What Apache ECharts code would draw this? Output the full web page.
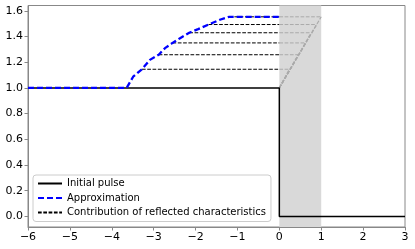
<!DOCTYPE html>
<html>
<head>
<meta charset="utf-8">
<script src="https://cdn.jsdelivr.net/npm/echarts@6/dist/echarts.min.js"></script>
<style>html,body{margin:0;padding:0;background:#fff}#c{width:415px;height:249px}</style>
</head>
<body>
<div id="c"></div>
<script>
// ---- data ----
const pulseX = [-6, 0, 0, 3];
const pulseY = [1, 1, 0, 0];
const approxX = [-6, -3.645, -3.49, -3.28, -3.09, -2.88, -2.73, -2.55, -2.37, -2.15, -1.94, -1.69, -1.42, -1.2, 0];
const approxY = [1, 1, 1.087, 1.145, 1.218, 1.258, 1.309, 1.350, 1.387, 1.429, 1.457, 1.493, 1.530, 1.553, 1.553];
const levels = [1.145, 1.258, 1.350, 1.429, 1.493, 1.553];
const curveX = [-3.28, -2.88, -2.55, -2.15, -1.69, -1.2];
const reflectX = [0.24, 0.45, 0.63, 0.76, 0.89, 1.0];
const shadeRange = [0, 1];
const xTicks = [-6, -5, -4, -3, -2, -1, 0, 1, 2, 3];
const yTicks = [0, 0.2, 0.4, 0.6, 0.8, 1.0, 1.2, 1.4, 1.6];
const legendNames = ['Initial pulse', 'Approximation', 'Contribution of reflected characteristics'];

const zip = (xs, ys) => xs.map((x, i) => [x, ys[i]]);
const FONT = 'DejaVu Sans';
const series = [];
// shade
series.push({
  type: 'line', data: [], silent: true, z: 0,
  markArea: { silent: true, itemStyle: { color: '#d9d9d9', opacity: 1 },
    data: [[{ xAxis: shadeRange[0] }, { xAxis: shadeRange[1] }]] }
});
// contributions of reflected characteristics
levels.forEach((L, i) => {
  series.push({
    name: i === 0 ? legendNames[2] : '__c' + i,
    type: 'line', symbol: 'none', z: 2, animation: false,
    data: [[curveX[i], L], [0, L]],
    itemStyle: { color: '#000' },
    lineStyle: { color: '#000', width: 1, type: [3.7, 1.6] }
  });
  series.push({
    type: 'line', symbol: 'none', z: 2, animation: false,
    data: [[0, L], [reflectX[i], L]],
    lineStyle: { color: '#aaaaaa', width: 1, type: [3.7, 1.6] }
  });
  series.push({
    type: 'line', symbol: 'none', z: 2, animation: false,
    data: [[0, 1], [reflectX[i], L]],
    lineStyle: { color: '#aaaaaa', width: 1.2, type: [3.7, 1.6] }
  });
});
series.push({
  name: legendNames[0], type: 'line', symbol: 'none', z: 3, animation: false,
  data: zip(pulseX, pulseY),
  itemStyle: { color: '#000' },
  lineStyle: { color: '#000', width: 1.5 }
});
series.push({
  name: legendNames[1], type: 'line', symbol: 'none', z: 4, animation: false,
  data: zip(approxX, approxY),
  itemStyle: { color: '#0000ff' },
  lineStyle: { color: '#0000ff', width: 2.3, type: [6, 3] }
});

const fmt = v => String(v).replace('-', '\u2212');
const chart = echarts.init(document.getElementById('c'), null, { renderer: 'canvas' });
chart.setOption({
  animation: false,
  backgroundColor: '#fff',
  grid: { left: 28, right: 10, top: 5.5, bottom: 22, show: true, borderColor: '#888', borderWidth: 1, backgroundColor: 'transparent' },
  xAxis: {
    type: 'value', min: -6, max: 3, interval: 1,
    axisLine: { show: true, onZero: false, lineStyle: { color: '#888', width: 1 } },
    axisTick: { show: true, length: 3.5, lineStyle: { color: '#888' }, customValues: xTicks },
    splitLine: { show: false },
    axisLabel: { color: '#000', fontFamily: FONT, fontSize: 11, margin: 5, formatter: fmt, customValues: xTicks },
  },
  yAxis: {
    type: 'value', min: -0.082, max: 1.641,
    axisLine: { show: true, onZero: false, lineStyle: { color: '#888', width: 1 } },
    axisTick: { show: true, length: 3.5, lineStyle: { color: '#888' }, customValues: yTicks },
    splitLine: { show: false },
    axisLabel: { color: '#000', fontFamily: FONT, fontSize: 11, margin: 5, formatter: v => v.toFixed(1), customValues: yTicks },
  },
  legend: {
    data: legendNames, orient: 'vertical', left: 33, top: 175,
    itemWidth: 24, itemHeight: 10, itemGap: 4.5,
    padding: [3.5, 5, 4, 4],
    itemStyle: { opacity: 0, borderWidth: 0 },
    backgroundColor: 'rgba(255,255,255,0.8)', borderColor: '#cccccc', borderWidth: 1, borderRadius: 3,
    textStyle: { fontFamily: FONT, fontSize: 10, color: '#000' },
    selectedMode: false
  },
  series: series
});
</script>
</body>
</html>
